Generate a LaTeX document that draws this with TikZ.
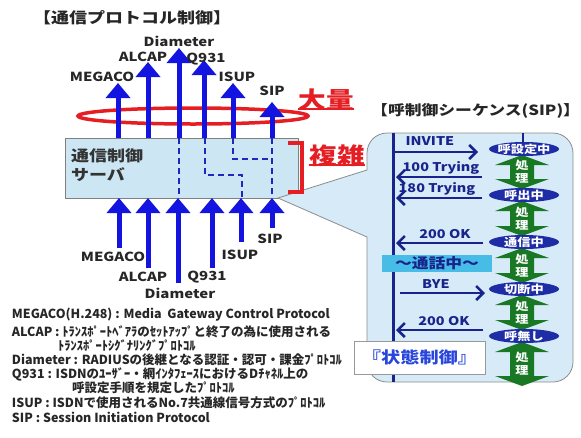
\documentclass[tikz,border=0pt]{standalone}
\usepackage{fontspec}
\setmainfont{Noto Sans CJK JP}[FakeStretch=1.2]
\newfontfamily\legfont{Noto Sans CJK JP}[FakeStretch=1.0]
\usetikzlibrary{arrows.meta}
\definecolor{arrowblue}{RGB}{20,20,225}
\definecolor{dashblue}{RGB}{30,40,190}
\definecolor{navy}{RGB}{25,35,140}
\definecolor{stateblue}{RGB}{30,45,165}
\definecolor{pgreen}{RGB}{25,120,35}
\definecolor{calloutfill}{RGB}{214,235,247}
\definecolor{boxfill}{RGB}{204,230,244}
\definecolor{talkfill}{RGB}{70,188,230}
\definecolor{redmark}{RGB}{228,30,35}
\definecolor{stateblue2}{RGB}{40,70,220}
\newcommand\garw[3]{%
  \fill[pgreen] (#1,#2) -- (#1+27,#2+10) -- (#1+12,#2+10) -- (#1+12,#3-10) -- (#1+27,#3-10)
    -- (#1,#3) -- (#1-27,#3-10) -- (#1-12,#3-10) -- (#1-12,#2+10) -- (#1-27,#2+10) -- cycle;}
\begin{document}
\begin{tikzpicture}[x=1pt,y=-1pt,
  every node/.style={inner sep=0pt, outer sep=0pt},
  lbl/.style={font=\fontsize{12.5}{15}\selectfont\bfseries, text=black!85},
  leg/.style={anchor=west, font=\legfont\fontsize{12.5}{14}\selectfont\bfseries, text=black!85},
  title/.style={font=\fontsize{15}{17}\selectfont\bfseries, text=black!85},
  bluearrow/.style={draw=arrowblue, line width=5pt, -{Triangle[width=24pt,length=15pt]}},
  dashline/.style={draw=dashblue, line width=2pt, dash pattern=on 6pt off 4pt},
  msg/.style={draw=navy, line width=2.5pt, -{Straight Barb[length=7pt,width=14pt]}},
  msglbl/.style={font=\fontsize{12}{13}\selectfont\bfseries, text=navy},
  statetxt/.style={text=white, font=\fontsize{11}{12}\selectfont\bfseries},
  proc/.style={text=white, font=\fontsize{11}{13}\selectfont\bfseries, align=center},
  bigred/.style={text=redmark, font=\fontsize{23}{25}\selectfont\bfseries},
]
\path[use as bounding box] (0,0) rectangle (581,437);

% titles
\node[title] (t1) at (132,18) {【通信プロトコル制御】};
\node[title, font=\fontsize{14}{17}\selectfont\bfseries, anchor=east] (t2) at (580,111) {【呼制御シーケンス(SIP)】};

% red ellipse
\draw[redmark, line width=3.5pt] (193,116) ellipse [x radius=115pt, y radius=8pt];

% top arrows
\foreach \n/\x/\t in {tmeg/118/83, talc/148/62, tdia/179/48, tq/204/60, tisup/233/83, tsip/272/102} {
  \coordinate (\n-s) at (\x,138);
  \coordinate (\n-e) at (\x,\t);
  \draw[bluearrow] (\n-s) -- (\n-e);
}
\node[lbl] (ltmeg) at (102,77) {MEGACO};
\node[lbl] (ltalc) at (143,57) {ALCAP};
\node[lbl] (ltdia) at (179,41) {Diameter};
\node[lbl] (ltq) at (206,59) {Q931};
\node[lbl] (ltisup) at (237,77) {ISUP};
\node[lbl] (ltsip) at (272,91) {SIP};

% server box
\node[draw=black!50, line width=0.8pt, fill=boxfill, minimum width=233pt, minimum height=60pt] (server) at (181.5,168) {};
\node[anchor=north west, align=left, font=\fontsize{15}{19}\selectfont\bfseries, text=black!80] (srvtxt) at (71,149) {通信制御\\サーバ};

% dashed routes
\coordinate (d1a) at (179,138); \coordinate (d1b) at (179,198);
\coordinate (d2a) at (205,138); \coordinate (d2b) at (205,175); \coordinate (d2c) at (242,175); \coordinate (d2d) at (242,198);
\coordinate (d3a) at (233,138); \coordinate (d3b) at (233,159); \coordinate (d3c) at (272,159);
\coordinate (d4a) at (272,138); \coordinate (d4b) at (272,198);
\draw[dashline] (d1a) -- (d1b);
\draw[dashline] (d2a) -- (d2b) -- (d2c) -- (d2d);
\draw[dashline] (d3a) -- (d3b) -- (d3c);
\draw[dashline] (d4a) -- (d4b);

% bottom arrows
\foreach \n/\x/\b in {bmeg/119/248, balc/148/268, bdia/178/283, bq/212/268, bisup/241/242, bsip/272/228} {
  \coordinate (\n-s) at (\x,\b);
  \coordinate (\n-e) at (\x,198);
  \draw[bluearrow] (\n-s) -- (\n-e);
}
\node[lbl] (lbmeg) at (113,257) {MEGACO};
\node[lbl] (lbalc) at (143,277) {ALCAP};
\node[lbl] (lbdia) at (180,293) {Diameter};
\node[lbl] (lbq) at (207,277) {Q931};
\node[lbl] (lbisup) at (240,255) {ISUP};
\node[lbl] (lbsip) at (270,239) {SIP};

% callout
\draw[draw=black!45, line width=0.8pt, fill=calloutfill]
  (278,198) -- (367,170) {[rounded corners=20pt] -- (367,133) -- (573,133) -- (573,382) -- (367,382)} -- (367,237) -- cycle;

% sequence lines
\coordinate (seqT) at (393,133); \coordinate (seqB) at (393,382);
\draw[navy, line width=3pt] (seqT) -- (seqB);
\coordinate (stubT) at (523,133); \coordinate (stubB) at (523,145);
\draw[navy, line width=2.5pt] (stubT) -- (stubB);

% talk box
\node[fill=talkfill, minimum width=110pt, minimum height=17pt, font=\fontsize{14}{16}\selectfont\bfseries, text=navy] (talk) at (437,263) {～通話中～};

% messages
\coordinate (m1s) at (395,152); \coordinate (m1e) at (478,152);
\coordinate (m2s) at (482,177); \coordinate (m2e) at (396,177);
\coordinate (m3s) at (482,198); \coordinate (m3e) at (396,198);
\coordinate (m4s) at (483,243); \coordinate (m4e) at (396,243);
\coordinate (m5s) at (400,293); \coordinate (m5e) at (485,293);
\coordinate (m6s) at (483,330); \coordinate (m6e) at (396,330);
\draw[msg] (m1s) -- (m1e);
\draw[msg] (m2s) -- (m2e);
\draw[msg] (m3s) -- (m3e);
\draw[msg] (m4s) -- (m4e);
\draw[msg] (m5s) -- (m5e);
\draw[msg] (m6s) -- (m6e);
\node[msglbl] (l1) at (430,141) {INVITE};
\node[msglbl] (l2) at (441,168) {100 Trying};
\node[msglbl] (l3) at (437,189) {180 Trying};
\node[msglbl] (l4) at (445,234) {200 OK};
\node[msglbl] (l5) at (436,284) {BYE};
\node[msglbl] (l6) at (444,321) {200 OK};

% green process arrows
\garw{522}{155}{189}
\garw{522}{201}{236}
\garw{522}{248}{283}
\garw{522}{295}{330}
\garw{522}{342}{386}
\node[proc] (p1) at (522,172) {処\\理};
\node[proc] (p2) at (522,218.5) {処\\理};
\node[proc] (p3) at (522,265.5) {処\\理};
\node[proc] (p4) at (522,312.5) {処\\理};
\node[proc] (p5) at (522,364) {処\\理};

% states
\foreach \n/\y/\t in {st1/149/呼設定中, st2/195/呼出中, st3/242/通信中, st4/289/切断中, st5/336/呼無し} {
  \fill[stateblue] (524,\y) ellipse [x radius=35pt, y radius=7pt];
  \node[statetxt] (\n) at (524,\y) {\t};
}

% state control box
\node[draw=black!40, line width=0.8pt, fill=white, minimum width=131pt, minimum height=33pt,
  font=\fontsize{16}{18}\selectfont\bfseries, text=stateblue2] (ctrl) at (419.5,357.5) {『状態制御』};

% red marks
\node[bigred] (tairyo) at (326,100) {大量};
\draw[redmark, line width=1.5pt] ([yshift=2pt]tairyo.south west) -- ([yshift=2pt]tairyo.south east);
\node[bigred] (fukuzatsu) at (337,156) {複雑};
\draw[redmark, line width=1.5pt] ([yshift=2pt]fukuzatsu.south west) -- ([yshift=2pt]fukuzatsu.south east);
\coordinate (br1) at (288,143); \coordinate (br2) at (302,143); \coordinate (br3) at (302,192); \coordinate (br4) at (288,192);
\draw[redmark, line width=4pt] (br1) -- (br2) -- (br3) -- (br4);

% legend
\node[leg] (g1) at (12,315) {MEGACO(H.248) : Media\ \ Gateway Control Protocol};
\node[leg] (g2) at (12,332) {ALCAP : ﾄﾗﾝｽﾎﾟｰﾄﾍﾞｱﾗのｾｯﾄｱｯﾌﾟと終了の為に使用される};
\node[leg] (g3) at (58,346) {ﾄﾗﾝｽﾎﾟｰﾄｼｸﾞﾅﾘﾝｸﾞﾌﾟﾛﾄｺﾙ};
\node[leg] (g4) at (12,360) {Diameter : RADIUSの後継となる認証・認可・課金ﾌﾟﾛﾄｺﾙ};
\node[leg] (g5) at (12,374) {Q931 : ISDNのﾕｰｻﾞｰ・網ｲﾝﾀﾌｪｰｽにおけるDﾁｬﾈﾙ上の};
\node[leg] (g6) at (72,388) {呼設定手順を規定したﾌﾟﾛﾄｺﾙ};
\node[leg] (g7) at (12,403) {ISUP : ISDNで使用されるNo.7共通線信号方式のﾌﾟﾛﾄｺﾙ};
\node[leg] (g8) at (12,417) {SIP : Session Initiation Protocol};
\end{tikzpicture}
\end{document}
